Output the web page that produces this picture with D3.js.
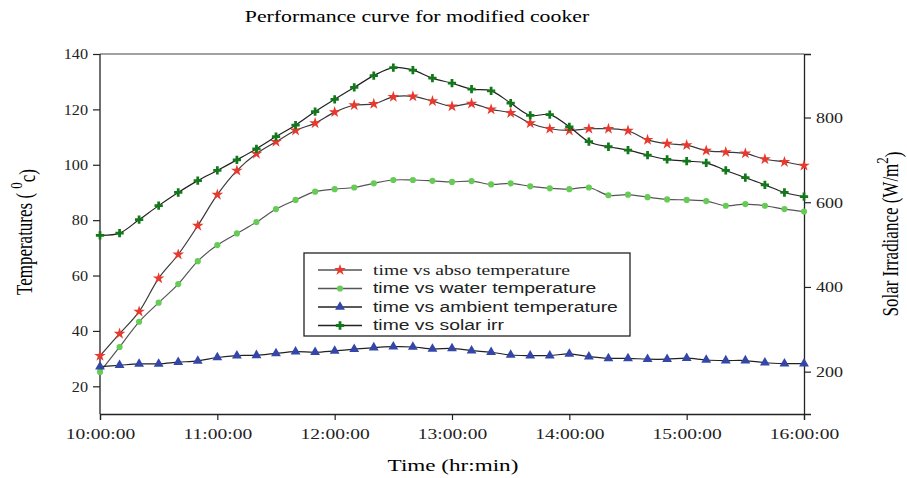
<!DOCTYPE html>
<meta charset="utf-8">
<script src="https://d3js.org/d3.v7.min.js"></script>
<style>
  body { margin: 0; background: #fff; }
  .serif { font-family: "Liberation Serif", "Times New Roman", serif; }
  .sans { font-family: "Liberation Sans", Arial, sans-serif; }
</style>
<div id="my_dataviz"></div>
<script>

// readings every 10 minutes
var times = ["10:00","10:10","10:20","10:30","10:40","10:50",
             "11:00","11:10","11:20","11:30","11:40","11:50",
             "12:00","12:10","12:20","12:30","12:40","12:50",
             "13:00","13:10","13:20","13:30","13:40","13:50",
             "14:00","14:10","14:20","14:30","14:40","14:50",
             "15:00","15:10","15:20","15:30","15:40","15:50","16:00"];

var absoTemp = [31.0, 39.0, 47.0, 59.0, 67.6, 78.0, 89.2, 97.9, 104.0, 108.3, 112.4, 115.0, 119.0,
                121.5, 122.0, 124.5, 124.7, 123.0, 121.1, 122.1, 120.0, 118.7, 115.0, 113.0, 112.4,
                113.0, 113.0, 112.3, 109.0, 107.6, 107.1, 105.1, 104.6, 104.1, 102.0, 101.0, 99.7];

var waterTemp = [25.2, 34.2, 43.3, 50.2, 56.9, 65.2, 71.0, 75.2, 79.3, 84.0, 87.3, 90.3, 91.2,
                 91.8, 93.3, 94.5, 94.5, 94.2, 93.8, 94.1, 92.9, 93.3, 92.2, 91.5, 91.2,
                 91.8, 89.0, 89.2, 88.3, 87.5, 87.3, 86.9, 85.2, 85.8, 85.2, 84.0, 83.1];

var ambientTemp = [27.1, 27.6, 28.1, 28.1, 28.7, 29.2, 30.4, 31.1, 31.2, 31.9, 32.5, 32.3, 32.8,
                   33.4, 34.0, 34.3, 34.2, 33.5, 33.7, 32.9, 32.3, 31.3, 31.1, 31.1, 31.7,
                   30.7, 30.1, 30.1, 29.8, 29.8, 30.2, 29.5, 29.3, 29.3, 28.5, 28.2, 28.2];

var solarIrr = [522, 527, 559, 592, 623, 651, 675, 700, 726, 755, 782, 814, 843,
                871, 899, 918, 912, 893, 881, 867, 863, 834, 805, 807, 778,
                743, 731, 723, 711, 701, 697, 693, 675, 658, 641, 623, 613];

var hourTicks = ["10:00","11:00","12:00","13:00","14:00","15:00","16:00"];
var tempTicks = [20, 40, 60, 80, 100, 120, 140];
var irrTicks = [200, 400, 600, 800];

var legendLabels = ["time vs abso temperature", "time vs water temperature",
                    "time vs ambient temperature", "time vs solar irr"];

// the source picture is stretched sideways, so widen horizontal text a bit
function stretch(sel, k) {
  sel.each(function() {
    var w = this.getComputedTextLength();
    d3.select(this).attr("textLength", w * k).attr("lengthAdjust", "spacingAndGlyphs");
  });
}

// dimensions
var margin = {top: 54, right: 103, bottom: 64, left: 100},
    width = 907 - margin.left - margin.right,
    height = 478 - margin.top - margin.bottom;

var svg = d3.select("#my_dataviz")
  .append("svg")
    .attr("width", 907)
    .attr("height", 478)
  .append("g")
    .attr("transform", "translate(" + margin.left + "," + margin.top + ")");

var parseTime = d3.timeParse("%H:%M");

var x = d3.scaleTime()
  .domain([parseTime("10:00"), parseTime("16:00")])
  .range([0, width]);

var y = d3.scaleLinear().domain([10, 140]).range([height, 0]);
var y2 = d3.scaleLinear().domain([100, 950]).range([height, 0]);

// frame line on top
svg.append("line")
  .attr("x1", 0).attr("x2", width).attr("y1", 0).attr("y2", 0)
  .attr("stroke", "#444").attr("stroke-width", 1.2);

// axes
var xAxis = svg.append("g")
  .attr("transform", "translate(0," + height + ")")
  .call(d3.axisBottom(x).tickValues(hourTicks.map(parseTime))
        .tickFormat(d3.timeFormat("%H:%M:%S")).tickSizeOuter(0).tickSize(6).tickPadding(8));

var yAxis = svg.append("g")
  .call(d3.axisLeft(y).tickValues(tempTicks).tickSizeOuter(0).tickSize(7).tickPadding(5));

var yAxis2 = svg.append("g")
  .attr("transform", "translate(" + width + ",0)")
  .call(d3.axisRight(y2).tickValues(irrTicks).tickSizeOuter(0).tickSize(7).tickPadding(5));

[xAxis, yAxis, yAxis2].forEach(function(a) {
  a.selectAll("path").attr("stroke", "#222").attr("stroke-width", 1.3);
  a.selectAll("line").attr("stroke", "#222").attr("stroke-width", 1.2);
  a.selectAll("text").attr("class", "serif").style("font-size", "15px").attr("fill", "#222");
});
// left axis line spans full height
yAxis.select("path").attr("d", "M0,0V" + height);
stretch(xAxis.selectAll("text"), 1.3);
stretch(yAxis.selectAll("text"), 1.08);
stretch(yAxis2.selectAll("text"), 1.2);

// series
var series = [
  {name: legendLabels[0], values: absoTemp, scale: y, symbol: d3.symbolStar, size: 42, fill: "#e8392f", line: "#3a3a3a"},
  {name: legendLabels[1], values: waterTemp, scale: y, symbol: d3.symbolCircle, size: 30, fill: "#66cc55", line: "#555"},
  {name: legendLabels[2], values: ambientTemp, scale: y, symbol: d3.symbolTriangle, size: 42, fill: "#3447a8", line: "#222"},
  {name: legendLabels[3], values: solarIrr, scale: y2, symbol: d3.symbolCross, size: 38, fill: "#12781a", line: "#222"}
];

series.forEach(function(s) {
  var pts = times.map(function(t, i) { return {t: parseTime(t), v: s.values[i]}; });
  var line = d3.line()
    .x(function(d) { return x(d.t); })
    .y(function(d) { return s.scale(d.v); })
    .curve(d3.curveCatmullRom.alpha(0.5));

  svg.append("path")
    .datum(pts)
    .attr("fill", "none")
    .attr("stroke", s.line)
    .attr("stroke-width", 1.2)
    .attr("d", line);

  svg.selectAll(null)
    .data(pts)
    .enter()
    .append("path")
      .attr("d", d3.symbol().type(s.symbol).size(s.size))
      .attr("transform", function(d) { return "translate(" + x(d.t) + "," + s.scale(d.v) + ")"; })
      .attr("fill", s.fill);
});

// legend
var legend = svg.append("g").attr("transform", "translate(204,199)");
legend.append("rect")
  .attr("width", 326).attr("height", 83)
  .attr("fill", "#fff").attr("stroke", "#222").attr("stroke-width", 1.3);

series.forEach(function(s, i) {
  var ly = 17 + i * 18.5;
  legend.append("line")
    .attr("x1", 14).attr("x2", 58).attr("y1", ly).attr("y2", ly)
    .attr("stroke", i < 2 ? "#555" : "#222").attr("stroke-width", 1.3);
  legend.append("path")
    .attr("d", d3.symbol().type(s.symbol).size(s.size))
    .attr("transform", "translate(36," + ly + ")")
    .attr("fill", s.fill);
  var t = legend.append("text")
    .attr("class", i === 0 ? "serif" : "sans")
    .attr("x", 69).attr("y", ly)
    .attr("dy", "0.35em")
    .style("font-size", i === 0 ? "15px" : "14px")
    .attr("fill", "#222")
    .text(s.name);
  stretch(t, i === 0 ? 1.31 : 1.38);
});

// titles
var title = d3.select("svg").append("text")
  .attr("class", "serif")
  .attr("x", 417).attr("y", 22)
  .attr("text-anchor", "middle")
  .style("font-size", "16px")
  .text("Performance curve for modified cooker");
stretch(title, 1.36);

var xTitle = d3.select("svg").append("text")
  .attr("class", "serif")
  .attr("x", 453).attr("y", 471)
  .attr("text-anchor", "middle")
  .style("font-size", "17px")
  .text("Time (hr:min)");
stretch(xTitle, 1.36);

// rotated labels, widened sideways like the rest of the text
var leftLabel = d3.select("svg").append("text")
  .attr("class", "serif")
  .attr("transform", "translate(32,232) scale(1.3,1) rotate(-90)")
  .attr("text-anchor", "middle")
  .style("font-size", "17px");
leftLabel.append("tspan").text("Temperatures ( ");
leftLabel.append("tspan").attr("dy", "-0.6em").style("font-size", "13px").text("0");
leftLabel.append("tspan").attr("dy", "0.6em").text("c)");

var rightLabel = d3.select("svg").append("text")
  .attr("class", "serif")
  .attr("transform", "translate(898,234) scale(1.3,1) rotate(-90)")
  .attr("text-anchor", "middle")
  .style("font-size", "17px");
rightLabel.append("tspan").text("Solar Irradiance (W/m");
rightLabel.append("tspan").attr("dy", "-0.6em").style("font-size", "13px").text("2");
rightLabel.append("tspan").attr("dy", "0.6em").text(")");

</script>
